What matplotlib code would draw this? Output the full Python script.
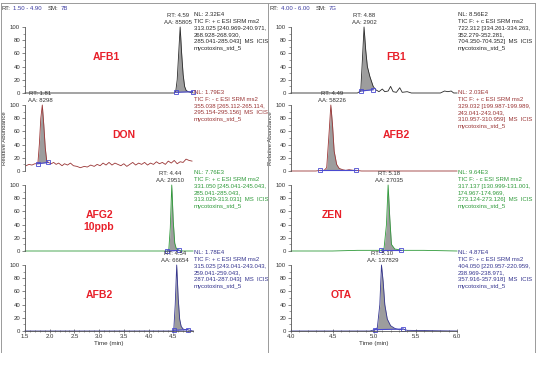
import matplotlib.pyplot as plt
import numpy as np
from matplotlib.ticker import MultipleLocator

plt.rcParams['font.family'] = ['Liberation Sans', 'DejaVu Sans']

W, H = 537, 365

# ---- left column (1.50 - 4.90 min) ----
afb1_t = [1.50, 4.52, 4.55, 4.58, 4.61, 4.64, 4.67, 4.70, 4.73, 4.76, 4.80, 4.85, 4.89, 4.90]
afb1_y = [0, 0, 2, 20, 60, 100, 60, 28, 10, 4, 2, 1, 2, 0]
afb1_base = ([4.55, 4.89], [1, 2])

don_t = [1.52, 1.58, 1.64, 1.70, 1.76, 1.79, 1.82, 1.85, 1.88, 1.91, 1.94, 1.97,
         2.03, 2.08, 2.13, 2.18, 2.25, 2.30, 2.36, 2.42, 2.48, 2.55, 2.62, 2.70, 2.76,
         2.83, 2.90, 2.96, 3.02, 3.08, 3.14, 3.20, 3.26, 3.32, 3.38, 3.44, 3.50, 3.56,
         3.62, 3.68, 3.74, 3.80, 3.86, 3.92, 3.98, 4.04, 4.10, 4.16, 4.22, 4.28, 4.34,
         4.40, 4.46, 4.52, 4.58, 4.64, 4.70, 4.76, 4.82, 4.88]
don_y = [8, 10, 9, 11, 11, 40, 80, 100, 70, 35, 15, 13,
         11, 13, 10, 12, 8, 11, 9, 12, 8, 7, 5, 7, 6,
         9, 7, 10, 8, 12, 9, 13, 9, 12, 10, 8, 11, 7,
         10, 13, 9, 12, 10, 13, 9, 12, 10, 14, 11, 13, 10,
         15, 12, 16, 11, 14, 13, 18, 16, 15]
don_base = ([1.76, 1.97], [11, 13])

afg2_t = [1.50, 4.38, 4.41, 4.44, 4.47, 4.50, 4.53, 4.56, 4.62, 4.70, 4.90]
afg2_y = [0, 0, 2, 35, 100, 45, 12, 4, 1, 0, 0]
afg2_base = ([4.38, 4.62], [0, 1])

afb2l_t = [1.50, 4.48, 4.51, 4.54, 4.57, 4.60, 4.63, 4.66, 4.70, 4.74, 4.79, 4.84, 4.90]
afb2l_y = [0, 0, 1, 40, 100, 50, 18, 7, 3, 2, 2, 1, 0]
afb2l_base = ([4.51, 4.79], [1, 2])

# ---- right column (4.00 - 6.00 min) ----
fb1_t = [4.00, 4.80, 4.84, 4.86, 4.88, 4.90, 4.92, 4.95, 4.99, 5.02, 5.06, 5.10, 5.13,
         5.17, 5.20, 5.23, 5.27, 5.31, 5.34, 5.40, 5.45, 5.80, 5.85, 5.89, 5.93, 5.96, 6.00]
fb1_y = [0, 0, 3, 50, 100, 65, 40, 25, 10, 5, 2, 6, 2,
         3, 10, 2, 1, 8, 1, 2, 0, 0, 3, 2, 3, 0, 0]
fb1_base = ([4.84, 4.99], [3, 5])

afb2r_t = [4.00, 4.30, 4.35, 4.40, 4.43, 4.46, 4.48, 4.50, 4.52, 4.55, 4.58, 4.62, 4.66,
           4.70, 4.75, 4.78, 4.85, 6.00]
afb2r_y = [0, 0, 1, 1, 5, 60, 100, 70, 30, 10, 4, 2, 1, 2, 1, 1, 0, 0]
afb2r_base = ([4.35, 4.78], [1, 1])

zen_t = [4.00, 4.50, 4.80, 5.08, 5.12, 5.15, 5.17, 5.19, 5.21, 5.25, 5.30, 5.33, 5.60, 6.00]
zen_y = [0, 0, 1, 1, 3, 40, 100, 50, 10, 3, 2, 1, 1, 0]
zen_base = ([5.08, 5.33], [1, 1])

ota_t = [4.00, 4.95, 5.01, 5.04, 5.07, 5.09, 5.11, 5.13, 5.16, 5.20, 5.25, 5.30, 5.35, 5.40, 6.00]
ota_y = [0, 0, 2, 5, 40, 100, 75, 40, 18, 8, 4, 2, 3, 1, 0]
ota_base = ([5.01, 5.35], [2, 3])

names = ["AFB1", "DON", "AFG2\n10ppb", "AFB2", "FB1", "AFB2", "ZEN", "OTA"]
rts = [4.59, 1.81, 4.44, 4.54, 4.88, 4.49, 5.18, 5.10]
areas = [85805, 8298, 29510, 66654, 2902, 58226, 27035, 137829]
nls = ["2.32E4", "1.79E3", "7.76E3", "1.78E4", "8.56E2", "2.03E4", "9.64E3", "4.87E4"]
polar = ["+", "-", "+", "+", "+", "+", "-", "+"]
filters = [
    "313.025 [240.969-240.971,\n268.928-268.930,\n285.041-285.043]  MS  ICIS",
    "355.038 [265.112-265.114,\n295.154-295.156]  MS  ICIS",
    "331.050 [245.041-245.043,\n285.041-285.043,\n313.029-313.031]  MS  ICIS",
    "315.025 [243.041-243.043,\n259.041-259.043,\n287.041-287.043]  MS  ICIS",
    "722.312 [334.261-334.263,\n352.279-352.281,\n704.350-704.352]  MS  ICIS",
    "329.032 [199.987-199.989,\n243.041-243.043,\n310.957-310.959]  MS  ICIS",
    "317.137 [130.999-131.001,\n174.967-174.969,\n273.124-273.126]  MS  ICIS",
    "404.050 [220.957-220.959,\n238.969-238.971,\n357.916-357.918]  MS  ICIS",
]
traces = [(afb1_t, afb1_y, afb1_base), (don_t, don_y, don_base),
          (afg2_t, afg2_y, afg2_base), (afb2l_t, afb2l_y, afb2l_base),
          (fb1_t, fb1_y, fb1_base), (afb2r_t, afb2r_y, afb2r_base),
          (zen_t, zen_y, zen_base), (ota_t, ota_y, ota_base)]
colors = ["#2a2a2a", "#9a3535", "#2f9a3a", "#35358f"] * 2
label_pos = [(3.15, 55), (3.5, 55), (3.0, 45), (3.0, 55),
             (5.27, 55), (5.27, 55), (4.5, 55), (4.6, 55)]

fig = plt.figure(figsize=(W / 100, H / 100), dpi=100)

# frame lines like the instrument printout
for x in (1, 267.5, 535):
    fig.add_artist(plt.Line2D([x / W, x / W], [1 - 3 / H, 1 - 352 / H], color="#9a9a9a", lw=0.7))
fig.add_artist(plt.Line2D([1 / W, 535 / W], [1 - 3 / H, 1 - 3 / H], color="#9a9a9a", lw=0.7))


def header(x0, rng, sm):
    parts = [("RT:", "#333333"), (rng, "#3a3aa0"), ("SM:", "#333333"), (sm, "#3a3aa0")]
    xs = [x0, x0 + 11, x0 + 46, x0 + 59]
    for (s, c), xp in zip(parts, xs):
        fig.text(xp / W, 1 - 8.5 / H, s, fontsize=4.3, color=c, va="center")


header(2, "1.50 - 4.90", "7B")
header(270, "4.00 - 6.00", "7G")

tops = [27, 105, 185, 265]
cols = [(25, 168, (1.5, 4.9)), (291, 166, (4.0, 6.0))]

for i in range(8):
    col, row = divmod(i, 4)
    left, width, xlim = cols[col]
    ax = fig.add_axes([left / W, 1 - (tops[row] + 66) / H, width / W, 66 / H])
    ax.set_xlim(*xlim)
    ax.set_ylim(0, 100)
    t, y, (bt, by) = traces[i]
    t = np.array(t)
    y = np.array(y)
    c = colors[i]
    base = np.interp(t, bt, by)
    mask = (t >= bt[0]) & (t <= bt[1])
    ax.fill_between(t, y, base, where=mask, color="#9d9d9d", lw=0, clip_on=False)
    ax.plot(t, y, color=c, lw=0.6, clip_on=False)
    ax.plot(bt, by, color="#4a4ad0", lw=0.8, marker="s", ms=3, mfc="none",
            mec="#4a4ad0", mew=0.6, clip_on=False)

    for s in ("top", "right"):
        ax.spines[s].set_visible(False)
    ax.spines["left"].set_color("#555555")
    ax.spines["left"].set_linewidth(0.6)
    ax.yaxis.set_major_locator(MultipleLocator(20))
    ax.yaxis.set_minor_locator(MultipleLocator(10))
    ax.tick_params(axis="y", which="major", labelsize=4.3, length=2.5, width=0.5,
                   colors="#555555", labelcolor="#333333", pad=1)
    ax.tick_params(axis="y", which="minor", length=1.5, width=0.4, colors="#555555")
    if row < 3:
        ax.spines["bottom"].set_visible(False)
        ax.set_xticks([])
    else:
        ax.spines["bottom"].set_color("#555555")
        ax.spines["bottom"].set_linewidth(0.6)
        ax.xaxis.set_major_locator(MultipleLocator(0.5))
        ax.xaxis.set_minor_locator(MultipleLocator(0.1))
        ax.xaxis.set_major_formatter(lambda v, p: f"{v:.1f}")
        ax.tick_params(axis="x", which="major", direction="inout", labelsize=4.3,
                       length=3, width=0.5, colors="#555555", labelcolor="#333333", pad=1)
        ax.tick_params(axis="x", which="minor", direction="inout", length=2,
                       width=0.4, colors="#555555")
        ax.set_xlabel("Time (min)", fontsize=4.5, color="#333333", labelpad=1)
    if row == 1:
        ax.set_ylabel("Relative Abundance", fontsize=4.3, color="#333333", labelpad=2)

    # peak annotation
    ax.text(rts[i], 118, f"RT: {rts[i]:.2f}", fontsize=4.3, color="#333333",
            ha="center", va="center", clip_on=False)
    ax.text(rts[i], 107.5, f"AA: {areas[i]}", fontsize=4.3, color="#333333",
            ha="center", va="center", clip_on=False)

    # scan filter block
    block = f"NL: {nls[i]}\nTIC F: {polar[i]} c ESI SRM ms2\n{filters[i]}\nmycotoxins_std_5"
    ax.text(1.0 + 1 / width, 1 + 15 / 66, block, transform=ax.transAxes,
            fontsize=4.3, color=c, ha="left", va="top", linespacing=1.45, clip_on=False)

    lx, ly = label_pos[i]
    ax.text(lx, ly, names[i], fontsize=7.5, fontweight="bold", color="#e8202a",
            ha="center", va="center", linespacing=1.3)

fig.savefig("out.png", dpi=100)
